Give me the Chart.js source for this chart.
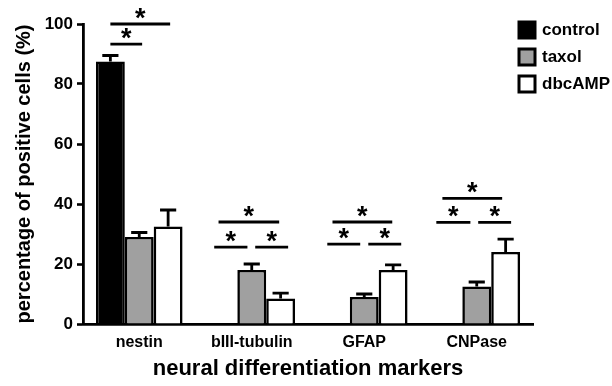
<!DOCTYPE html>
<html>
<head>
<meta charset="utf-8">
<script src="https://cdn.jsdelivr.net/npm/chart.js@4"></script>
<style>
  html, body { margin: 0; padding: 0; background: #fff; }
  #wrap { width: 612px; height: 386px; }
</style>
</head>
<body>
<div id="wrap"><canvas id="chart" width="612" height="386"></canvas></div>
<script>
// data
var categories = ['nestin', 'bIII-tubulin', 'GFAP', 'CNPase'];
var seriesNames = ['control', 'taxol', 'dbcAMP'];
var controlValues = [87.5, null, null, null];
var taxolValues = [29, 18, 9, 12.5];
var dbcampValues = [32.5, 8.5, 18, 24];
var controlErrors = [2, null, null, null];
var taxolErrors = [1.5, 2, 1, 1.5];
var dbcampErrors = [5.5, 1.8, 1.7, 4.3];

// significance bars: category, from/to (in bar widths from group centre), height (%)
var sigCategory = [0, 0, 1, 1, 1, 2, 2, 2, 3, 3, 3];
var sigFrom = [-1.0, -1.0, -1.15, -1.3, 0.12, -1.1, -1.28, 0.14, -1.19, -1.4, 0.05];
var sigTo = [0.1, 1.07, 0.95, -0.15, 1.26, 0.97, -0.14, 1.28, 0.88, -0.22, 1.19];
var sigLevel = [93.3, 100, 34, 25.6, 25.6, 34, 26.6, 26.6, 41.9, 33.9, 33.9];

var colors = ['#000000', '#a0a0a0', '#ffffff'];
var FONT = "'Liberation Sans', Arial, sans-serif";

var errorBars = {
  id: 'errorBars',
  afterDatasetsDraw: function(chart) {
    var ctx = chart.ctx;
    var y = chart.scales.y;
    var errs = [controlErrors, taxolErrors, dbcampErrors];
    ctx.save();
    ctx.strokeStyle = '#000';
    ctx.lineWidth = 2.8;
    chart.data.datasets.forEach(function(ds, d) {
      var meta = chart.getDatasetMeta(d);
      meta.data.forEach(function(bar, i) {
        var v = ds.data[i], e = errs[d][i];
        if (v == null || e == null) return;
        var top = y.getPixelForValue(v + e);
        var cap = bar.width * 0.28;
        ctx.beginPath();
        ctx.moveTo(bar.x, bar.y);
        ctx.lineTo(bar.x, top);
        ctx.moveTo(bar.x - cap, top);
        ctx.lineTo(bar.x + cap, top);
        ctx.stroke();
      });
    });

    // significance lines and stars
    var meta = chart.getDatasetMeta(1);
    ctx.font = 'bold 27px ' + FONT;
    ctx.textAlign = 'center';
    ctx.textBaseline = 'alphabetic';
    ctx.fillStyle = '#000';
    for (var k = 0; k < sigCategory.length; k++) {
      var bar = meta.data[sigCategory[k]];
      var x1 = bar.x + sigFrom[k] * bar.width;
      var x2 = bar.x + sigTo[k] * bar.width;
      var ly = y.getPixelForValue(sigLevel[k]);
      ctx.beginPath();
      ctx.moveTo(x1, ly);
      ctx.lineTo(x2, ly);
      ctx.stroke();
      ctx.fillText('*', (x1 + x2) / 2, ly + 3);
    }

    // legend
    ctx.font = 'bold 17px ' + FONT;
    ctx.textAlign = 'left';
    ctx.textBaseline = 'middle';
    ctx.lineWidth = 3;
    for (var s = 0; s < seriesNames.length; s++) {
      var by = 22 + s * 27;
      ctx.fillStyle = colors[s];
      ctx.fillRect(519, by, 16, 16);
      ctx.strokeRect(519, by, 16, 16);
      ctx.fillStyle = '#000';
      ctx.fillText(seriesNames[s], 542, by + 8);
    }
    ctx.restore();
  }
};

function makeSet(i, values) {
  return {
    label: seriesNames[i],
    data: values,
    backgroundColor: colors[i],
    borderColor: '#000',
    borderWidth: 2.6,
    borderSkipped: 'start',
    categoryPercentage: 0.77,
    barPercentage: 1.0
  };
}

new Chart(document.getElementById('chart'), {
  type: 'bar',
  data: {
    labels: categories,
    datasets: [makeSet(0, controlValues), makeSet(1, taxolValues), makeSet(2, dbcampValues)]
  },
  options: {
    responsive: false,
    animation: false,
    layout: { padding: { top: 24, right: 79, left: 0, bottom: 0 } },
    plugins: { legend: { display: false }, tooltip: { enabled: false } },
    scales: {
      x: {
        grid: { display: false, drawTicks: false },
        border: { display: true, color: '#000', width: 2.8 },
        ticks: { color: '#000', font: { family: FONT, size: 16, weight: 'bold' }, padding: 9 },
        title: { display: true, text: 'neural differentiation markers', color: '#000',
                 font: { family: FONT, size: 22, weight: 'bold' }, padding: { top: 4, bottom: 4 } },
        afterFit: function(scale) { scale.height = 62; }
      },
      y: {
        min: 0, max: 100,
        ticks: { stepSize: 20, color: '#000', font: { family: FONT, size: 17, weight: 'bold' }, padding: 4 },
        grid: { display: true, drawOnChartArea: false, drawTicks: true, tickLength: 6,
                tickWidth: 2.6, tickColor: '#000' },
        border: { display: true, color: '#000', width: 2.8 },
        title: { display: true, text: 'percentage of positive cells (%)', color: '#000',
                 font: { family: FONT, size: 20, weight: 'bold' }, padding: { top: 12, bottom: 0 } },
        afterFit: function(scale) { scale.width = 83; }
      }
    }
  },
  plugins: [errorBars]
});
</script>
</body>
</html>
